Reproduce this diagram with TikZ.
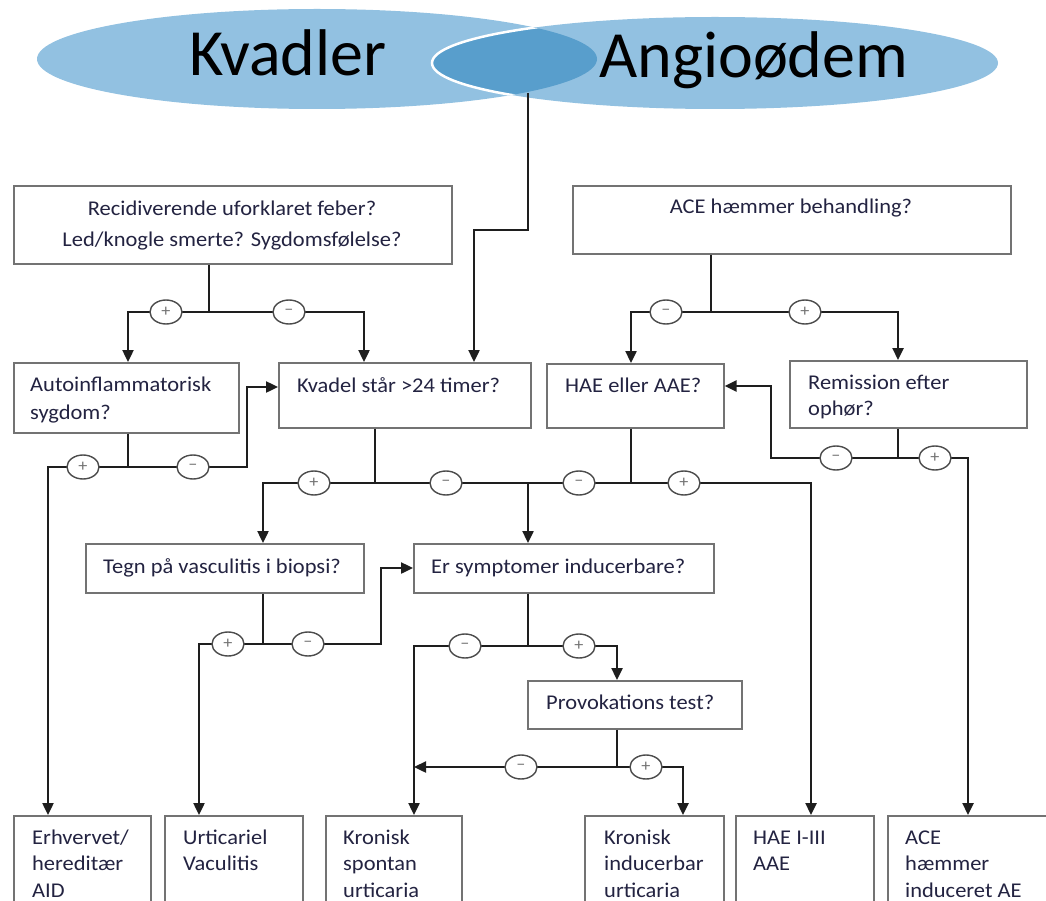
\documentclass[tikz,border=0pt]{standalone}
\usepackage{fontspec}
\setmainfont{Carlito}[FakeStretch=1.07]
\newfontfamily\bigfont{Carlito}
\usetikzlibrary{arrows.meta,shapes.geometric,calc}
\definecolor{ellL}{RGB}{146,193,225}
\definecolor{ellD}{RGB}{88,158,204}
\definecolor{txt}{RGB}{35,35,65}
\definecolor{bord}{RGB}{115,115,115}
\definecolor{lin}{RGB}{30,30,30}
\newcommand\tstrut{\rule{0pt}{18pt}}
\begin{document}
\begin{tikzpicture}[x=1pt,y=-1pt,
  box/.style={draw=bord,line width=1.7pt,fill=white,inner sep=0pt,anchor=north west},
  lbl/.style={inner sep=0pt,text=txt,anchor=north west,align=left,font=\fontsize{21}{28}\selectfont},
  clbl/.style={lbl,anchor=north,align=center},
  blbl/.style={lbl,font=\fontsize{21}{26.5}\selectfont},
  conn/.style={draw=lin,line width=2.4pt},
  arr/.style={conn,-{Triangle[length=12pt,width=11pt]}},
  sign/.style={ellipse,draw=lin!80,line width=1.4pt,fill=white,minimum width=32pt,minimum height=24pt,inner sep=0pt,text=black!55,font=\fontsize{17}{17}\selectfont},
  big/.style={inner sep=0pt,anchor=base west,text=black,font=\bigfont\fontsize{66}{70}\selectfont}
]
\useasboundingbox (0,0) rectangle (1046,901);
\clip (0,0) rectangle (1046,901);

% ---- ellipses
\node[ellipse,fill=ellL,minimum width=560pt,minimum height=100pt,inner sep=0pt] (kv) at (317,59) {};
\node[ellipse,fill=ellL,minimum width=566pt,minimum height=92pt,inner sep=0pt] (ag) at (715,63) {};
\begin{scope}
  \clip (317,59) ellipse [x radius=280pt, y radius=50pt];
  \fill[ellD] (715,63) ellipse [x radius=283pt, y radius=46pt];
  \draw[white,line width=2.5pt] (715,63) ellipse [x radius=283pt, y radius=46pt];
\end{scope}
\node[big] (tkv) at (189,76) {Kvadler};
\node[big] (tag) at (599,78) {Angioødem};
\coordinate (ov) at (528,93);

% ---- boxes
\node[box,minimum width=438pt,minimum height=78pt] (recid) at (13,185) {};
\node[box,minimum width=438pt,minimum height=68pt] (ace) at (572,185) {};
\node[box,minimum width=225pt,minimum height=70pt] (auto) at (13,362) {};
\node[box,minimum width=252pt,minimum height=65pt] (kvadel) at (278,362) {};
\node[box,minimum width=177pt,minimum height=64pt] (hae) at (546,363) {};
\node[box,minimum width=237pt,minimum height=67pt] (remis) at (789,360) {};
\node[box,minimum width=278pt,minimum height=49pt] (tegn) at (85,543) {};
\node[box,minimum width=300pt,minimum height=49pt] (ersym) at (413,543) {};
\node[box,minimum width=214pt,minimum height=48pt] (provo) at (527,680) {};
\node[box,minimum width=137pt,minimum height=100pt] (b1) at (13,815) {};
\node[box,minimum width=138pt,minimum height=100pt] (b2) at (164,815) {};
\node[box,minimum width=136pt,minimum height=100pt] (b3) at (325,815) {};
\node[box,minimum width=139pt,minimum height=100pt] (b4) at (584,815) {};
\node[box,minimum width=138pt,minimum height=100pt] (b5) at (735,815) {};
\node[box,minimum width=170pt,minimum height=100pt] (b6) at (887,815) {};

% ---- texts
\node[clbl,font=\fontsize{21}{31}\selectfont] (trecid) at (232,197) {\tstrut Recidiverende uforklaret feber?\\Led/knogle smerte? Sygdomsfølelse?};
\node[clbl] (tace) at (791,195) {\tstrut ACE hæmmer behandling?};
\node[lbl] (tauto) at (30,373) {\tstrut Autoinflammatorisk\\sygdom?};
\node[lbl] (tkvadel) at (297,374) {\tstrut Kvadel står >24 timer?};
\node[lbl] (thae) at (565,374) {\tstrut HAE eller AAE?};
\node[lbl,font=\fontsize{21}{26}\selectfont] (tremis) at (808,371) {\tstrut Remission efter\\ophør?};
\node[lbl] (ttegn) at (103,555) {\tstrut Tegn på vasculitis i biopsi?};
\node[lbl] (tersym) at (431,555) {\tstrut Er symptomer inducerbare?};
\node[lbl] (tprovo) at (546,691) {\tstrut Provokations test?};
\node[blbl] (tb1) at (32,826) {\tstrut Erhvervet/\\hereditær\\AID};
\node[blbl] (tb2) at (183,826) {\tstrut Urticariel\\Vaculitis};
\node[blbl] (tb3) at (343,826) {\tstrut Kronisk\\spontan\\urticaria};
\node[blbl] (tb4) at (604,826) {\tstrut Kronisk\\inducerbar\\urticaria};
\node[blbl] (tb5) at (753,826) {\tstrut HAE I-III\\AAE};
\node[blbl] (tb6) at (905,826) {\tstrut ACE\\hæmmer\\induceret AE};

% ---- junction / corner coordinates
\coordinate (e1) at (528,230);  \coordinate (e2) at (474,230);
\coordinate (j1) at (209,312);  \coordinate (k1) at (128,312); \coordinate (k2) at (364,312);
\coordinate (j2) at (711,312);  \coordinate (k3) at (631,312); \coordinate (k4) at (898,312);
\coordinate (j3) at (128,467);  \coordinate (k5) at (48,467);  \coordinate (k6) at (247,467); \coordinate (k7) at (247,387);
\coordinate (j4) at (375,483);  \coordinate (k8) at (263,483); \coordinate (k9) at (528,483);
\coordinate (j5) at (631,483);  \coordinate (k10) at (811,483);
\coordinate (j6) at (898,458);  \coordinate (k11) at (771,458); \coordinate (k12) at (771,386); \coordinate (k13) at (968,458);
\coordinate (j7) at (263,644);  \coordinate (k14) at (199,644); \coordinate (k15) at (381,644); \coordinate (k16) at (381,568);
\coordinate (j8) at (528,646);  \coordinate (k17) at (414,646); \coordinate (k18) at (617,646);
\coordinate (j9) at (617,767);  \coordinate (k19) at (414,767); \coordinate (k20) at (683,767);

% ---- connectors
\draw[arr] (ov) -- (e1) -- (e2) -- (e2 |- kvadel.north);

\draw[conn] (recid.south -| j1) -- (j1);
\draw[arr] (j1) -- (k1) -- (k1 |- auto.north);
\draw[arr] (j1) -- (k2) -- (k2 |- kvadel.north);

\draw[conn] (ace.south -| j2) -- (j2);
\draw[arr] (j2) -- (k3) -- (k3 |- hae.north);
\draw[arr] (j2) -- (k4) -- (k4 |- remis.north);

\draw[conn] (auto.south -| j3) -- (j3);
\draw[arr] (j3) -- (k5) -- (k5 |- b1.north);
\draw[arr] (j3) -- (k6) -- (k7) -- (k7 -| kvadel.west);

\draw[conn] (kvadel.south -| j4) -- (j4);
\draw[arr] (j4) -- (k8) -- (k8 |- tegn.north);
\draw[arr] (j4) -- (k9) -- (k9 |- ersym.north);

\draw[conn] (hae.south -| j5) -- (j5) -- (k9);
\draw[arr] (j5) -- (k10) -- (k10 |- b5.north);

\draw[conn] (remis.south -| j6) -- (j6);
\draw[arr] (j6) -- (k11) -- (k12) -- (k12 -| hae.east);
\draw[arr] (j6) -- (k13) -- (k13 |- b6.north);

\draw[conn] (tegn.south -| j7) -- (j7);
\draw[arr] (j7) -- (k14) -- (k14 |- b2.north);
\draw[arr] (j7) -- (k15) -- (k16) -- (k16 -| ersym.west);

\draw[conn] (ersym.south -| j8) -- (j8);
\draw[arr] (j8) -- (k17) -- (k17 |- b3.north);
\draw[arr] (j8) -- (k18) -- (k18 |- provo.north);

\draw[conn] (provo.south -| j9) -- (j9);
\draw[arr] (j9) -- (k19);
\draw[arr] (j9) -- (k20) -- (k20 |- b4.north);

% ---- sign ellipses
\node[sign] (s1) at (166,312) {+};
\node[sign] (s2) at (289,312) {–};
\node[sign] (s3) at (666,312) {–};
\node[sign] (s4) at (805,312) {+};
\node[sign] (s5) at (83,467) {+};
\node[sign] (s6) at (193,467) {–};
\node[sign] (s7) at (314,483) {+};
\node[sign] (s8) at (446,483) {–};
\node[sign] (s9) at (579,483) {–};
\node[sign] (s10) at (684,483) {+};
\node[sign] (s11) at (836,458) {–};
\node[sign] (s12) at (935,458) {+};
\node[sign] (s13) at (228,644) {+};
\node[sign] (s14) at (308,644) {–};
\node[sign] (s15) at (465,646) {–};
\node[sign] (s16) at (579,646) {+};
\node[sign] (s17) at (521,767) {–};
\node[sign] (s18) at (646,767) {+};
\end{tikzpicture}
\end{document}
